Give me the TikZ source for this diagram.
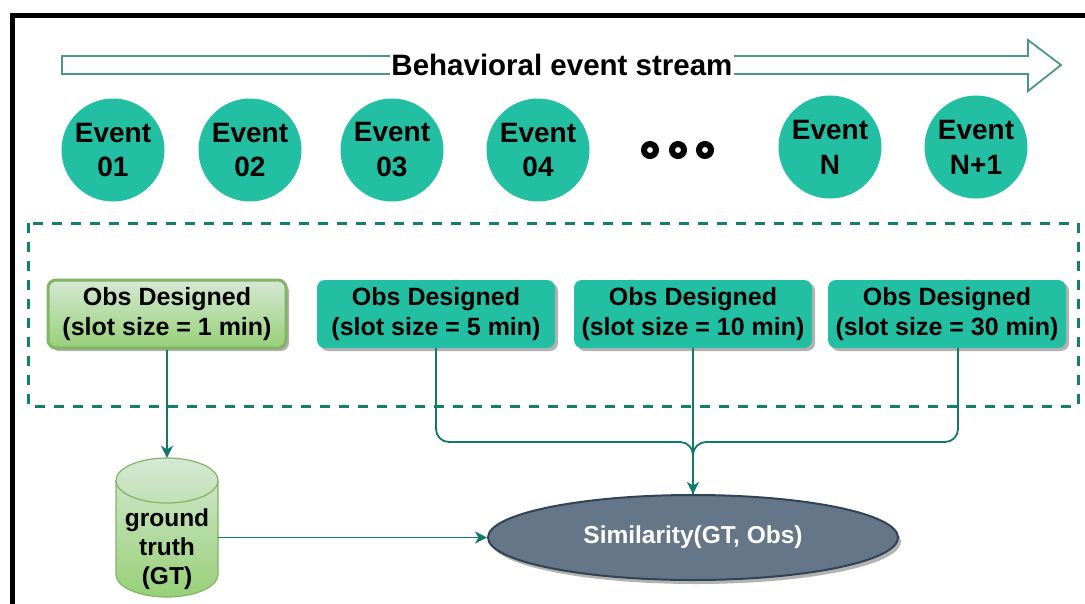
\documentclass[tikz,border=0pt]{standalone}
\usepackage{fontspec}
\setmainfont{Liberation Sans}
\usetikzlibrary{arrows.meta,shadows,shapes.geometric}
\definecolor{evfill}{RGB}{35,191,162}
\definecolor{linkc}{RGB}{16,122,104}
\definecolor{grpc}{RGB}{18,128,110}
\definecolor{streamc}{RGB}{74,150,135}
\definecolor{gtop}{RGB}{213,232,212}
\definecolor{gbot}{RGB}{151,208,119}
\definecolor{gline}{RGB}{130,179,102}
\definecolor{simfill}{RGB}{100,118,135}
\definecolor{simline}{RGB}{49,67,84}

\begin{document}
\begin{tikzpicture}[x=1pt,y=-1pt,
  event/.style={circle, fill=evfill, minimum size=103pt, inner sep=0pt,
    align=center, font=\fontsize{28}{35}\selectfont\bfseries},
  obsbox/.style={rectangle, rounded corners=8pt, minimum width=238pt,
    minimum height=68pt, inner sep=0pt, align=center,
    font=\fontsize{25}{30}\selectfont\bfseries,
    drop shadow={shadow xshift=3pt, shadow yshift=-3pt, fill=black, opacity=0.3}},
  obsteal/.style={obsbox, fill=evfill},
  obsgreen/.style={obsbox, draw=gline, line width=3pt, top color=gtop, bottom color=gbot},
  dotring/.style={circle, draw=black, line width=6pt, minimum size=12pt, inner sep=0pt},
  groupbox/.style={draw=grpc, line width=3pt, dash pattern=on 10pt off 9pt},
  conn/.style={draw=linkc, line width=1.8pt},
  connarrow/.style={conn, -{Stealth[length=12pt, width=12pt, inset=3.5pt]}},
  streamarrow/.style={draw=streamc, line width=1.8pt, fill=white},
  streamlabel/.style={fill=white, inner sep=1.5pt, font=\fontsize{29.5}{35}\selectfont\bfseries},
  cylbody/.style={draw=gline, line width=1.2pt, top color=gtop, bottom color=gbot},
  simnode/.style={ellipse, fill=simfill, draw=simline, line width=2pt,
    minimum width=410pt, minimum height=85pt, inner sep=0pt, text=white,
    font=\fontsize{24.5}{30}\selectfont\bfseries,
    drop shadow={shadow xshift=3pt, shadow yshift=-4pt, fill=black, opacity=0.3}},
  gtlabel/.style={align=center, inner sep=0pt, font=\fontsize{24.5}{29}\selectfont\bfseries}
]
\useasboundingbox (0,0) rectangle (1085,603);

% page frame (top and left edges)
\draw[line width=4.5pt, line cap=rect] (12.5,603) -- (12.5,15.5) -- (1085,15.5);

% event stream arrow with its caption
\draw[streamarrow] (62,56) -- (1028,56) -- (1028,40) -- (1061,65) -- (1028,91)
  -- (1028,74) -- (62,74) -- cycle;
\node[streamlabel] (stream) at (562,65) {Behavioral event stream};

% events
\node[event] (e1) at (113,150) {Event\\01};
\node[event] (e2) at (250,150) {Event\\02};
\node[event] (e3) at (392,150) {Event\\03};
\node[event] (e4) at (538,150) {Event\\04};
\node[dotring] (d1) at (650,150) {};
\node[dotring] (d2) at (678,150) {};
\node[dotring] (d3) at (705,150) {};
\node[event] (eN) at (830,147) {Event\\N};
\node[event] (eN1) at (976,147) {Event\\N+1};

% observation designs
\draw[groupbox] (28,223) rectangle (1078,406);
\node[obsgreen] (b1) at (167,314) {Obs Designed\\(slot size = 1 min)};
\node[obsteal] (b2) at (436,314) {Obs Designed\\(slot size = 5 min)};
\node[obsteal] (b3) at (693,314) {Obs Designed\\(slot size = 10 min)};
\node[obsteal] (b4) at (947,314) {Obs Designed\\(slot size = 30 min)};

% ground truth store
\node[minimum width=102pt, minimum height=139pt, inner sep=0pt] (gt) at (167,527.5) {};
\path[cylbody] (116,480.5) -- (116,574.5)
  arc[start angle=180, end angle=360, x radius=51pt, y radius=22.5pt]
  -- (218,480.5)
  arc[start angle=0, end angle=180, x radius=51pt, y radius=22.5pt] -- cycle;
\draw[draw=gline, line width=1.2pt] (116,480.5)
  arc[start angle=180, end angle=360, x radius=51pt, y radius=22.5pt];
\node[gtlabel] (gttext) at (167,549) {ground\\truth\\(GT)};

% similarity measure
\node[simnode] (sim) at (693,537.5) {Similarity(GT, Obs)};

% connectors
\coordinate (mergeY) at (0,442);
\draw[connarrow] (b1.south) -- (gt.north);
\draw[connarrow] (gt.east |- sim.west) -- (sim.west);
\draw[conn, rounded corners=13pt] (b2.south) -- (b2.south |- mergeY) -- (sim.north |- mergeY) -- (sim.north);
\draw[conn, rounded corners=13pt] ([xshift=11pt]b4.south) -- ([xshift=11pt]b4.south |- mergeY) -- (sim.north |- mergeY) -- (sim.north);
\draw[connarrow] (b3.south) -- (sim.north);
\end{tikzpicture}
\end{document}
